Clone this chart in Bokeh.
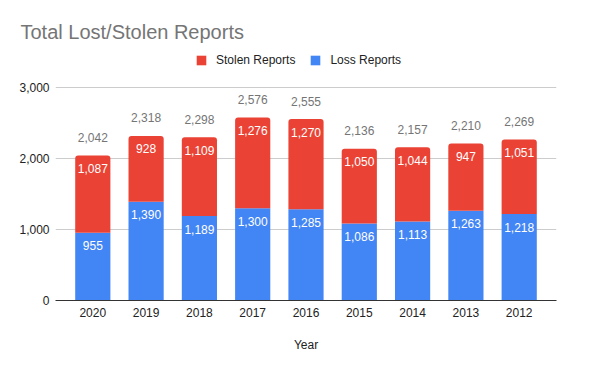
from bokeh.plotting import figure
from bokeh.models import (ColumnDataSource, FactorRange, Range1d, FixedTicker,
                          NumeralTickFormatter, Legend, LegendItem)
from bokeh.core.properties import value
from bokeh.embed import file_html
from bokeh.resources import INLINE

years = ["2020", "2019", "2018", "2017", "2016", "2015", "2014", "2013", "2012"]
loss = [955, 1390, 1189, 1300, 1285, 1086, 1113, 1263, 1218]
stolen = [1087, 928, 1109, 1276, 1270, 1050, 1044, 947, 1051]
y_ticks = [0, 1000, 2000, 3000]

FONT = "Liberation Sans"
RED = "#EA4335"
BLUE = "#4285F4"

totals = [a + b for a, b in zip(loss, stolen)]
src = ColumnDataSource(dict(
    year=years,
    loss=loss,
    stolen=stolen,
    total=totals,
    zero=[0] * len(years),
    loss_lbl=[f"{v:,}" for v in loss],
    stolen_lbl=[f"{v:,}" for v in stolen],
    total_lbl=[f"{v:,}" for v in totals],
))

# frame spans 255 px; the 0..3000 axis occupies the lower 213 px
p = figure(width=600, height=371, output_backend="svg", toolbar_location=None,
           title="Total Lost/Stolen Reports",
           x_range=FactorRange(factors=years, range_padding=0.0444),
           y_range=Range1d(0, 3000 * 255 / 213),
           min_border_left=55, min_border_right=44,
           min_border_top=45, min_border_bottom=71)
p.outline_line_color = None
p.background_fill_color = "white"
p.border_fill_color = "white"

p.title.text_font = FONT
p.title.text_font_size = "20px"
p.title.text_font_style = "normal"
p.title.text_color = "#757575"
p.title.align = "left"
p.title.offset = -35
p.title.standoff = 5

r_loss = p.vbar(x="year", bottom="zero", top="loss", width=0.66, source=src,
                fill_color=BLUE, line_color=None)
r_stolen = p.vbar(x="year", bottom="loss", top="total", width=0.66, source=src,
                  fill_color=RED, line_color=None, border_radius=(3, 3, 0, 0))

# value labels
p.text(x="year", y="loss", text="loss_lbl", source=src, text_color="white",
       text_font=value(FONT), text_font_size="12px", text_align="center",
       text_baseline="middle", y_offset=13)
p.text(x="year", y="total", text="stolen_lbl", source=src, text_color="white",
       text_font=value(FONT), text_font_size="12px", text_align="center",
       text_baseline="middle", y_offset=13)
p.text(x="year", y="total", text="total_lbl", source=src, text_color="#757575",
       text_font=value(FONT), text_font_size="12px", text_align="center",
       text_baseline="middle", y_offset=-18)

# axes
p.yaxis.ticker = FixedTicker(ticks=y_ticks)
p.yaxis.formatter = NumeralTickFormatter(format="0,0")
p.yaxis.axis_line_color = None
p.yaxis.major_tick_line_color = None
p.yaxis.major_tick_out = 0
p.yaxis.major_tick_in = 0
p.yaxis.minor_tick_line_color = None
p.yaxis.major_label_text_font = FONT
p.yaxis.major_label_text_font_size = "12px"
p.yaxis.major_label_text_color = "#222222"
p.yaxis.major_label_standoff = 6

p.xaxis.axis_line_color = "#333333"
p.xaxis.axis_line_width = 1
p.xaxis.major_tick_line_color = None
p.xaxis.major_tick_out = 0
p.xaxis.major_tick_in = 0
p.xaxis.minor_tick_line_color = None
p.xaxis.major_label_text_font = FONT
p.xaxis.major_label_text_font_size = "12px"
p.xaxis.major_label_text_color = "#222222"
p.xaxis.major_label_standoff = 7
p.xaxis.axis_label = "Year"
p.xaxis.axis_label_text_font = FONT
p.xaxis.axis_label_text_font_size = "12px"
p.xaxis.axis_label_text_font_style = "normal"
p.xaxis.axis_label_text_color = "#222222"
p.xaxis.axis_label_standoff = 18

p.xgrid.grid_line_color = None
p.ygrid.grid_line_color = "#cccccc"
p.ygrid.ticker = FixedTicker(ticks=y_ticks)

legend = Legend(items=[LegendItem(label="Stolen Reports", renderers=[r_stolen]),
                       LegendItem(label="Loss Reports", renderers=[r_loss])],
                orientation="horizontal", location=(140, 233),
                label_text_font=FONT, label_text_font_size="12px",
                label_text_color="#222222", glyph_width=12, glyph_height=12,
                label_height=12, label_standoff=9, spacing=14, padding=0,
                margin=0, border_line_color=None, background_fill_alpha=0)
p.add_layout(legend, "center")

open("out.html", "w").write(file_html(p, INLINE))
